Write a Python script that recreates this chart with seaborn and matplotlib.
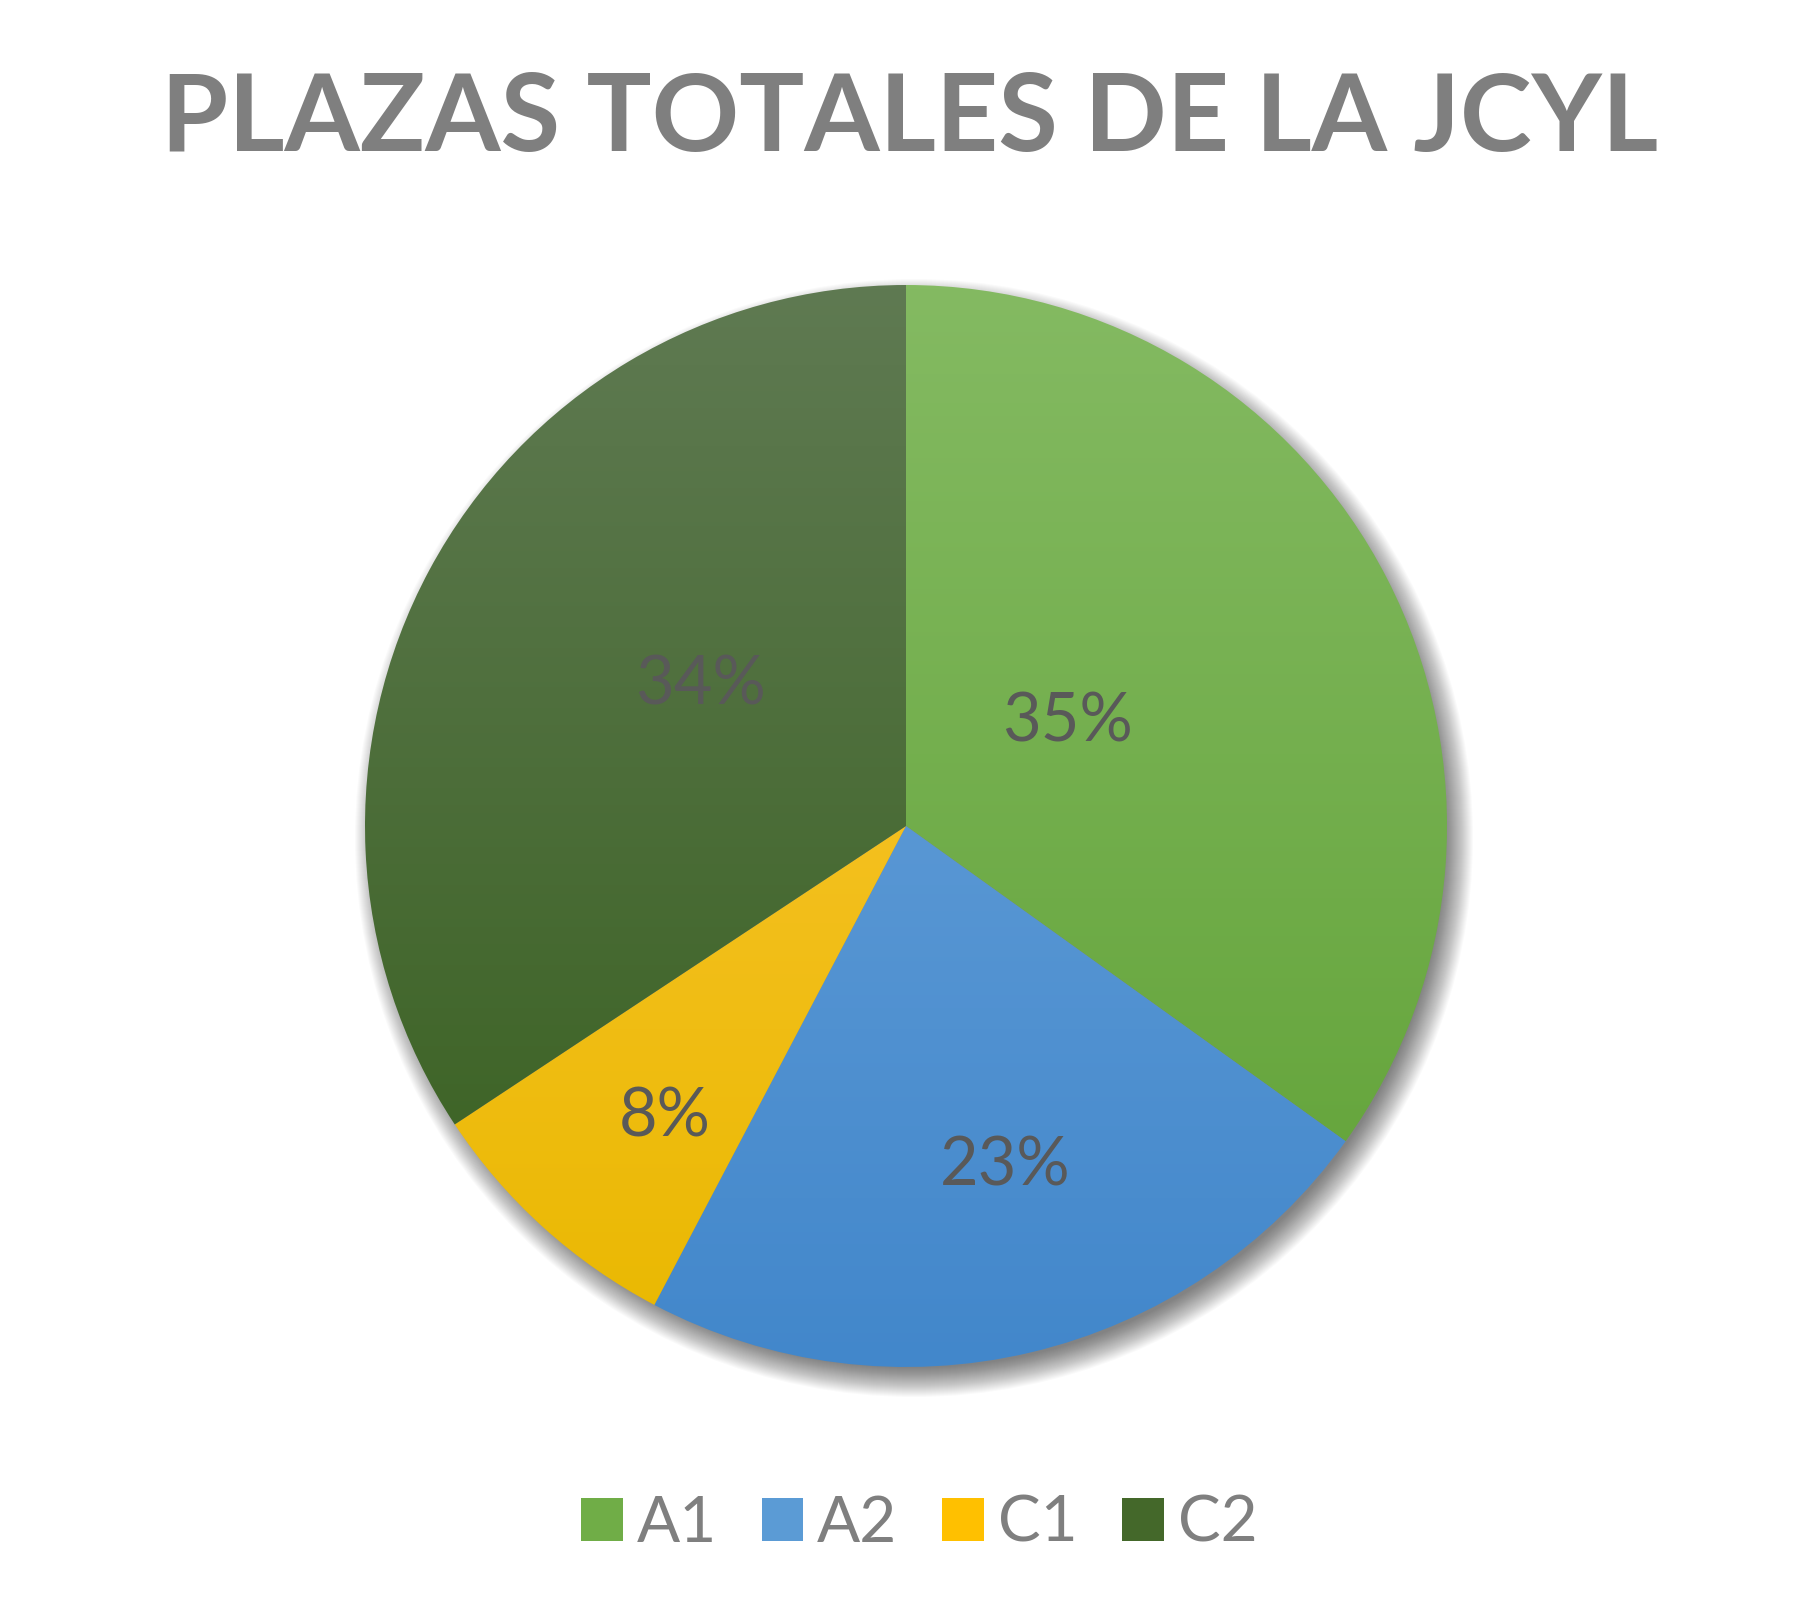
import numpy as np
import matplotlib
matplotlib.use("Agg")
import matplotlib.pyplot as plt
import seaborn as sns
from matplotlib.patches import Patch, Circle
from matplotlib.colors import LinearSegmentedColormap

# datos del gráfico
categorias = ["A1", "A2", "C1", "C2"]
valores = [34.9, 22.8, 8.0, 34.3]
etiquetas = ["35%", "23%", "8%", "34%"]
# colores: arriba / abajo del degradado
col_arriba = ["#84BA62", "#6FA7DD", "#FFC83D", "#5F7A52"]
col_abajo = ["#5FA134", "#4287CB", "#E9B800", "#365F1C"]
col_medio = ["#70AD47", "#5B9BD5", "#FFC000", "#44682A"]
# posición de las etiquetas (fracción del radio, giro en grados)
dist_etiqueta = [0.355, 0.655, 0.70, 0.46]
giro_etiqueta = [5.5, 3.0, 2.5, -6.0]

sns.set_theme(style="white")
plt.rcParams['font.family'] = ['Lato', 'DejaVu Sans']

fig = plt.figure(figsize=(18.2, 16.16), dpi=100)
ax = fig.add_axes([0, 0, 1, 1])

cx, cy, R = 906, 790, 541

# sombra difuminada
for i in range(30):
    ax.add_patch(Circle((cx + 8, cy - 12), R + 18 - i * 1.0, color="black",
                        alpha=0.02, lw=0, zorder=1))

wedges, _ = ax.pie(valores, startangle=90, counterclock=False, radius=R,
                   center=(cx, cy), wedgeprops=dict(lw=0))

# degradado vertical dentro de cada porción
grad = np.linspace(0, 1, 256).reshape(-1, 1)
for w, c1, c2 in zip(wedges, col_arriba, col_abajo):
    w.set_facecolor("none")
    cmap = LinearSegmentedColormap.from_list("g", [c2, c1])
    im = ax.imshow(grad, cmap=cmap, origin="lower", aspect="auto",
                   extent=(cx - R, cx + R, cy - R, cy + R), zorder=2)
    im.set_clip_path(w)

ax.set_xlim(0, 1820)
ax.set_ylim(0, 1616)
ax.set_aspect("equal")
ax.axis("off")

# etiquetas de porcentaje
for w, txt, d, g in zip(wedges, etiquetas, dist_etiqueta, giro_etiqueta):
    ang = np.deg2rad((w.theta1 + w.theta2) / 2 + g)
    ax.text(cx + d * R * np.cos(ang), cy + d * R * np.sin(ang), txt,
            ha="center", va="center", fontsize=48, color="#595959", zorder=5)

fig.text(0.5, 0.926, "PLAZAS TOTALES DE LA JCYL", ha="center", va="center",
         fontsize=78, fontweight="bold", color="#7F7F7F")

handles = [Patch(facecolor=c, edgecolor="none") for c in col_medio]
fig.legend(handles, categorias, loc="center", bbox_to_anchor=(0.505, 0.057),
           ncol=4, frameon=False, fontsize=46, labelcolor="#7F7F7F",
           handlelength=0.65, handleheight=0.65, handletextpad=0.22,
           columnspacing=0.7)

fig.savefig("out.png", dpi=100, facecolor="white")
